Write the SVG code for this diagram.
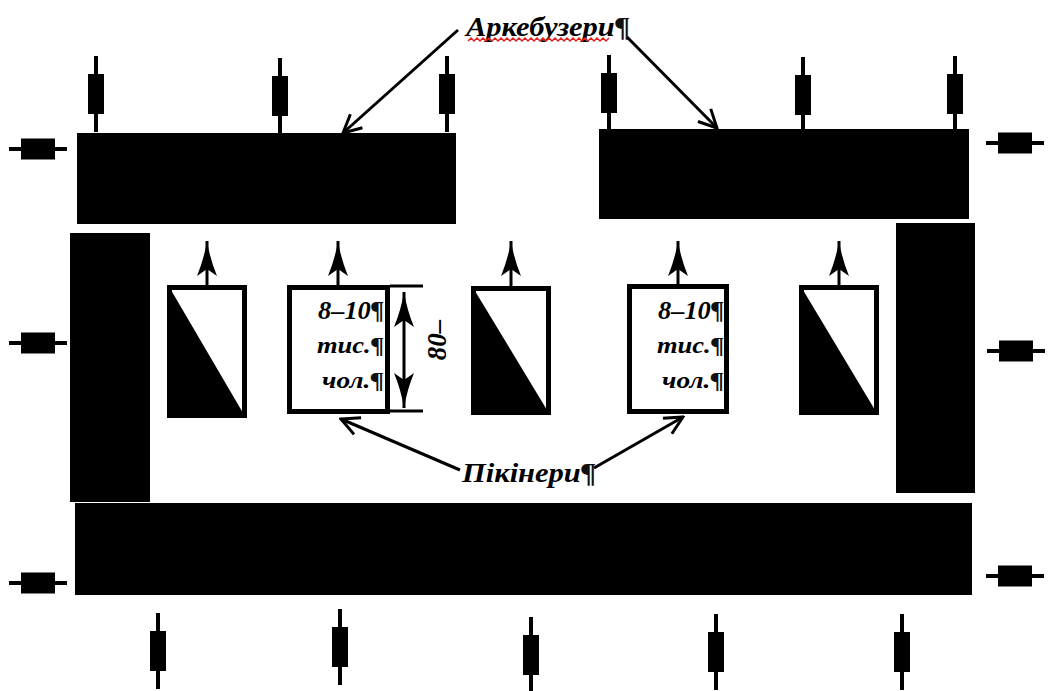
<svg xmlns="http://www.w3.org/2000/svg" xmlns:xlink="http://www.w3.org/1999/xlink" width="1050" height="691" viewBox="0 0 1050 691">
<style>
.blk{fill:#000}
.box{fill:#fff;stroke:#000;stroke-width:5}
.ln{stroke:#000;stroke-width:3;fill:none}
.lbl{font-family:"Liberation Serif","Times New Roman",serif;font-style:italic;font-weight:bold;fill:#000}
.pil{fill:#111}
</style>
<defs>
<marker id="openArr" markerUnits="userSpaceOnUse" viewBox="-20 -12 22 24" refX="0" refY="0" markerWidth="22" markerHeight="24" orient="auto">
<path d="M-18,-9 L0,0 L-18,9" fill="none" stroke="#000" stroke-width="3"/>
</marker>
<marker id="fillArr" markerUnits="userSpaceOnUse" viewBox="-36 -11 37 22" refX="0" refY="0" markerWidth="37" markerHeight="22" orient="auto-start-reverse">
<path d="M0,0 Q-18,-3 -35,-10 L-28,0 L-35,10 Q-18,3 0,0 Z" fill="#000"/>
</marker>
<g id="vm"><rect x="-2" y="-38" width="4" height="76" class="blk"/><rect x="-8" y="-20" width="16" height="40" class="blk"/></g>
<g id="hm"><rect x="-29" y="-2" width="58" height="4" class="blk"/><rect x="-17" y="-10.5" width="34" height="21" class="blk"/></g>
</defs>
<rect width="1050" height="691" fill="#fff"/>

<g id="arquebusiers-blocks">
<rect x="77" y="133" width="379" height="91" class="blk"/>
<rect x="599" y="129" width="370" height="90" class="blk"/>
<rect x="70" y="233" width="80" height="269" class="blk"/>
<rect x="896" y="223" width="79" height="270" class="blk"/>
<rect x="75" y="503" width="897" height="92" class="blk"/>
</g>

<g id="sentries">
<use xlink:href="#vm" x="96" y="94"/>
<use xlink:href="#vm" x="280" y="96"/>
<use xlink:href="#vm" x="447" y="94"/>
<use xlink:href="#vm" x="609" y="93"/>
<use xlink:href="#vm" x="803" y="95"/>
<use xlink:href="#vm" x="955" y="94"/>
<use xlink:href="#vm" x="158" y="651"/>
<use xlink:href="#vm" x="340" y="647"/>
<use xlink:href="#vm" x="531" y="655"/>
<use xlink:href="#vm" x="716" y="652"/>
<use xlink:href="#vm" x="902" y="652"/>
<use xlink:href="#hm" x="38" y="149"/>
<use xlink:href="#hm" x="38" y="343"/>
<use xlink:href="#hm" x="38" y="583"/>
<use xlink:href="#hm" x="1015" y="143"/>
<use xlink:href="#hm" x="1016" y="351"/>
<use xlink:href="#hm" x="1015" y="576"/>
</g>

<g id="unit1"><rect x="169.5" y="287.5" width="75" height="128" class="box"/><path d="M169.5,287.5 L244.5,415.5 L169.5,415.5 Z" class="blk"/></g>
<g id="unit3"><rect x="473.5" y="288.5" width="75" height="124" class="box"/><path d="M473.5,288.5 L548.5,412.5 L473.5,412.5 Z" class="blk"/></g>
<g id="unit5"><rect x="801.5" y="287.5" width="75" height="125" class="box"/><path d="M801.5,287.5 L876.5,412.5 L801.5,412.5 Z" class="blk"/></g>

<g id="pike1">
<rect x="289.5" y="287.5" width="98" height="124" class="box"/>
<text class="lbl" font-size="26" text-anchor="end" x="384" y="319" textLength="66" lengthAdjust="spacingAndGlyphs">8–10<tspan class="pil">¶</tspan></text>
<text class="lbl" font-size="24" text-anchor="end" x="384" y="353" textLength="67" lengthAdjust="spacingAndGlyphs">тис.<tspan class="pil">¶</tspan></text>
<text class="lbl" font-size="24" text-anchor="end" x="384" y="388" textLength="62" lengthAdjust="spacingAndGlyphs">чол.<tspan class="pil">¶</tspan></text>
</g>
<g id="pike2">
<rect x="629.5" y="286.5" width="97" height="125" class="box"/>
<text class="lbl" font-size="26" text-anchor="end" x="724" y="319" textLength="66" lengthAdjust="spacingAndGlyphs">8–10<tspan class="pil">¶</tspan></text>
<text class="lbl" font-size="24" text-anchor="end" x="724" y="353" textLength="67" lengthAdjust="spacingAndGlyphs">тис.<tspan class="pil">¶</tspan></text>
<text class="lbl" font-size="24" text-anchor="end" x="724" y="388" textLength="62" lengthAdjust="spacingAndGlyphs">чол.<tspan class="pil">¶</tspan></text>
</g>

<g id="dimension">
<line x1="390" y1="286" x2="423" y2="286" class="ln"/>
<line x1="390" y1="411" x2="423" y2="411" class="ln"/>
<line x1="404" y1="292" x2="404" y2="408" class="ln" marker-start="url(#fillArr)" marker-end="url(#fillArr)"/>
<text class="lbl" font-size="27" text-anchor="middle" transform="translate(446,340) rotate(-90)">80–</text>
</g>

<g id="labels">
<text class="lbl" font-size="27" x="466" y="36" textLength="164" lengthAdjust="spacingAndGlyphs">Аркебузери<tspan class="pil">¶</tspan></text>
<path d="M468,41 l3,-3 l3,3 l3,-3 l3,3 l3,-3 l3,3 l3,-3 l3,3 l3,-3 l3,3 l3,-3 l3,3 l3,-3 l3,3 l3,-3 l3,3 l3,-3 l3,3 l3,-3 l3,3 l3,-3 l3,3 l3,-3 l3,3 l3,-3 l3,3 l3,-3 l3,3 l3,-3 l3,3 l3,-3 l3,3 l3,-3 l3,3 l3,-3 l3,3 l3,-3 l3,3 l3,-3 l3,3 l3,-3 l3,3 l3,-3 l3,3 l3,-3 l3,3 l3,-3" fill="none" stroke="#e02020" stroke-width="1.5"/>
<text class="lbl" font-size="27" x="462" y="482" textLength="134" lengthAdjust="spacingAndGlyphs">Пікінери<tspan class="pil">¶</tspan></text>
</g>

<g id="connectors">
<line x1="458" y1="30" x2="343" y2="133" class="ln" marker-end="url(#openArr)"/>
<line x1="627" y1="37" x2="717" y2="128" class="ln" marker-end="url(#openArr)"/>
<line x1="460" y1="470" x2="341" y2="419" class="ln" marker-end="url(#openArr)"/>
<line x1="594" y1="468" x2="683" y2="417" class="ln" marker-end="url(#openArr)"/>
<line x1="207" y1="286" x2="207" y2="241" class="ln" marker-end="url(#fillArr)"/>
<line x1="338" y1="286" x2="338" y2="241" class="ln" marker-end="url(#fillArr)"/>
<line x1="511" y1="287" x2="511" y2="241" class="ln" marker-end="url(#fillArr)"/>
<line x1="678" y1="285" x2="678" y2="241" class="ln" marker-end="url(#fillArr)"/>
<line x1="839" y1="286" x2="839" y2="241" class="ln" marker-end="url(#fillArr)"/>
</g>
</svg>
